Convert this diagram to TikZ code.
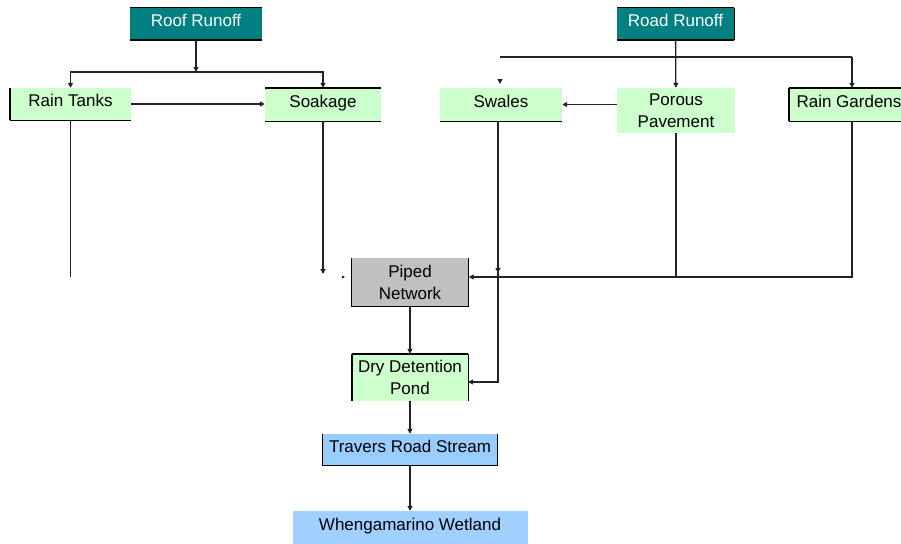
\documentclass[tikz,border=0pt]{standalone}
\usepackage{fontspec}
\setmainfont{Liberation Sans}
\usetikzlibrary{arrows.meta}
\definecolor{runoffteal}{RGB}{0,128,128}
\definecolor{devicegreen}{RGB}{204,255,204}
\definecolor{pipegrey}{RGB}{192,192,192}
\definecolor{streamblue}{RGB}{153,204,255}
\definecolor{wetlandblue}{RGB}{160,208,255}
\definecolor{linegrey}{RGB}{35,35,35}
\begin{document}
\begin{tikzpicture}
[x=1pt,y=-1pt,
  boxdecorate/.style={shape=rectangle,inner sep=0pt,align=center,
    font=\fontsize{17}{22}\selectfont},
  singleline/.style={text height=12pt,text depth=6.5pt},
  runoffbox/.style={boxdecorate,singleline,fill=runoffteal,text=white},
  devicebox/.style={boxdecorate,singleline,fill=devicegreen},
  devicepair/.style={boxdecorate,fill=devicegreen},
  pipebox/.style={boxdecorate,fill=pipegrey},
  streambox/.style={boxdecorate,singleline,fill=streamblue},
  wetlandbox/.style={boxdecorate,singleline,fill=wetlandblue},
  borderdecorate/.style={-,line width=1.4pt,draw=black},
  linedecorate/.style={-,line width=1.3pt,draw=linegrey},
  arrowdecorate/.style={linedecorate,-{Triangle[length=5pt,width=5pt]}},
  tinyarrow/.style={linedecorate,-{Triangle[length=3pt,width=3pt]}}]
\useasboundingbox[fill=white] (0,0) rectangle (901,543);
%% boxes
\foreach \nodename/\x/\y/\boxw/\boxh/\boxstyle/\caption in {
  roof/196/24/132/32/runoffbox/{Roof Runoff},
  road/675.5/24/117/32/runoffbox/{Road Runoff},
  tanks/70.5/104/121/32/devicebox/{Rain Tanks},
  soakage/323/104.5/116/33/devicebox/{Soakage},
  swales/501/104.5/122/33/devicebox/{Swales},
  porous/676/110.5/118/45/devicepair/{Porous\\Pavement},
  gardens/849/104.5/120/33/devicebox/{Rain Gardens},
  piped/410/282/117/48/pipebox/{Piped\\Network},
  pond/410/377.5/116/47/devicepair/{Dry Detention\\Pond},
  stream/410/449.5/175/31/streambox/{Travers Road Stream},
  wetland/410/528/235/34/wetlandbox/{Whengamarino Wetland}} {
  \node (\nodename) at (\x,\y)
    [\boxstyle,minimum width=\boxw,minimum height=\boxh] {\caption};
}
%% box borders
\foreach \nodename/\from/\to in {
  roof/north west/north east, roof/south west/south east,
  road/north west/north east, road/south west/south east,
  road/north east/south east,
  tanks/north west/south west, tanks/south west/south east,
  soakage/north west/north east, soakage/south west/south east,
  swales/south west/south east,
  gardens/north west/north east, gardens/north west/south west,
  gardens/south west/south east,
  piped/north west/south west, piped/north east/south east,
  piped/south west/south east,
  pond/north west/north east, pond/north west/south west,
  pond/north east/south east,
  stream/north west/south west, stream/north east/south east,
  stream/south west/south east} {
  \draw[borderdecorate] (\nodename.\from) -- (\nodename.\to);
}
%% join points
\coordinate (roofsplit) at (196,72);
\coordinate (tankend) at (71,277);
\coordinate (soakend) at (323,274);
\coordinate (pipedgap) at (345,277);
\coordinate (roadleft) at (500,57);
\coordinate (swalestip) at (500,84);
\coordinate (swalesmark) at (498,273);
\coordinate (gardensdrop) at (852,57);
\coordinate (pipedjoin) at ([yshift=5pt]piped.east);
\coordinate (pondjoin) at ([yshift=-4.5pt]pond.east);
%% roof runoff
\draw[arrowdecorate] (roof) -- (roofsplit);
\draw[arrowdecorate] (roofsplit) -| (tanks);
\draw[arrowdecorate] (roofsplit) -| (soakage);
\draw[arrowdecorate] (tanks.east) -- (tanks.east -| soakage.west);
\draw[linedecorate] (tanks.south) -- (tanks.south |- tankend);
\draw[arrowdecorate] (soakage) -- (soakend);
\draw[tinyarrow] ([xshift=-3pt]pipedgap) -- (pipedgap);
%% road runoff
\draw[arrowdecorate] (road) -- (porous);
\draw[linedecorate] (roadleft) -- (gardensdrop);
\draw[arrowdecorate] (gardensdrop) -- (gardensdrop |- gardens.north);
\draw[arrowdecorate] ([yshift=5pt]swalestip) -- (swalestip);
\draw[arrowdecorate] (porous.west |- swales.east) -- (swales.east);
\draw[linedecorate] ([xshift=-3pt]swales.south) |- (pondjoin);
\draw[arrowdecorate] ([xshift=-3pt]swales.south |- pondjoin) -- (pondjoin);
\draw[arrowdecorate] ([yshift=5pt]swalesmark) -- (swalesmark);
\draw[linedecorate] (porous) -- (porous |- pipedjoin);
\draw[arrowdecorate] (gardensdrop |- gardens.south) |- (pipedjoin);
%% downstream
\path
\foreach \startnode/\endnode in {piped/pond, pond/stream, stream/wetland} {
  (\startnode) edge[arrowdecorate] (\endnode)
};
\end{tikzpicture}
\end{document}
